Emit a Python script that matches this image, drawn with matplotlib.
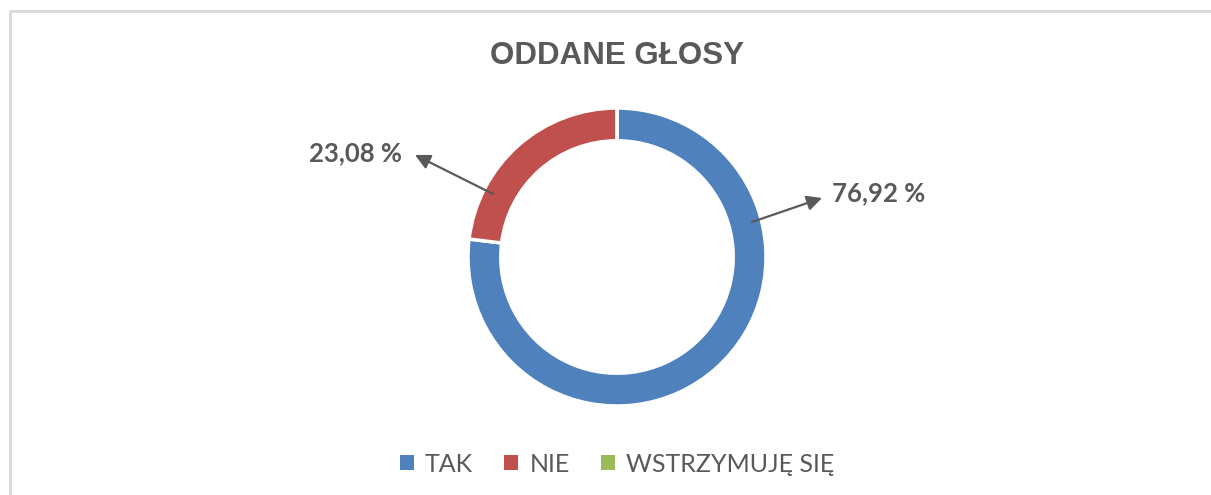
import matplotlib
matplotlib.use("Agg")
import matplotlib.pyplot as plt
from matplotlib.patches import Rectangle, Patch

categories = ["TAK", "NIE", "WSTRZYMUJĘ SIĘ"]
votes = [10, 3, 0]
colors = ["#4f81bd", "#c0504d", "#9bbb59"]
labels_shown = ["76,92 %", "23,08 %"]

W, H = 1211, 495
fig = plt.figure(figsize=(W / 100, H / 100), dpi=100)

# light frame around the chart area (right and bottom run off the picture)
fig.patches.append(Rectangle((10 / W, -0.05), 1.1, 1.05 - 11 / H,
                             transform=fig.transFigure, fill=False,
                             edgecolor="#d9d9d9", linewidth=2))

cx, cy, r = 617, H - 257, 149
ax = fig.add_axes([(cx - r) / W, (cy - r) / H, 2 * r / W, 2 * r / H])
ax.pie(votes, colors=colors, startangle=90, counterclock=False, radius=1,
       wedgeprops=dict(width=0.22, edgecolor="white", linewidth=2.5))
ax.set_xlim(-1, 1)
ax.set_ylim(-1, 1)
ax.set_aspect("equal")
ax.axis("off")

grey = "#595959"
lab_font = dict(fontsize=18.5, fontweight="bold", color=grey,
                family=["Lato", "DejaVu Sans"], clip_on=False)
arrow = dict(arrowstyle="-|>,head_length=0.9,head_width=0.45", color=grey, lw=1.6,
             shrinkA=0, shrinkB=0)
ax.annotate("", xy=(1.376, 0.396), xytext=(0.906, 0.235), arrowprops=arrow,
            annotation_clip=False)
ax.text(1.443, 0.43, labels_shown[0], ha="left", va="center", **lab_font)
ax.annotate("", xy=(-1.356, 0.685), xytext=(-0.832, 0.423), arrowprops=arrow,
            annotation_clip=False)
ax.text(-1.44, 0.70, labels_shown[1], ha="right", va="center", **lab_font)

fig.text(cx / W, 1 - 56 / H, "ODDANE GŁOSY", ha="center", va="center",
         fontsize=22.5, fontweight="bold", color=grey,
         family=["Liberation Sans", "DejaVu Sans"])

handles = [Patch(facecolor=c, edgecolor="none") for c in colors]
leg = fig.legend(handles, categories, loc="center", bbox_to_anchor=(cx / W, 1 - 464 / H),
                 ncol=3, frameon=False, handlelength=0.55, handleheight=0.55,
                 handletextpad=0.45, columnspacing=1.25,
                 prop=dict(family=["Lato", "DejaVu Sans"], size=18))
for t in leg.get_texts():
    t.set_color(grey)

fig.savefig("out.png", dpi=100)
